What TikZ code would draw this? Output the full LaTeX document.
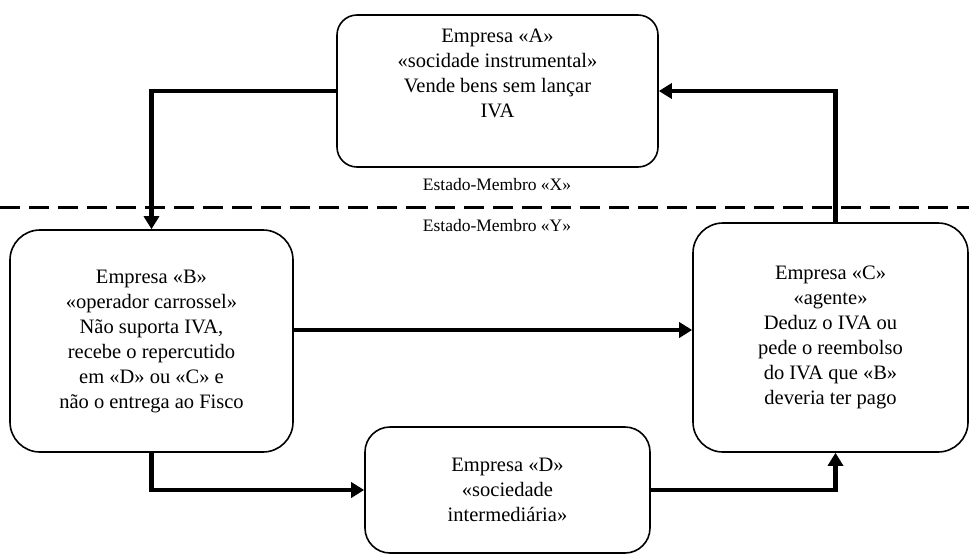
\documentclass[tikz,border=0pt]{standalone}
\usepackage{fontspec}
\setmainfont{Liberation Serif}
\usetikzlibrary{arrows.meta}

\tikzset{every picture/.style={line width=0.75pt}}
\tikzset{
	empresa/.style={draw, line width=1.6pt, align=center, inner sep=0pt, font=\fontsize{20.5}{25}\selectfont},
	fluxo/.style={line width=4.5pt, -{Triangle[length=13pt,width=15pt]}},
	estado/.style={inner sep=0pt, font=\fontsize{17.5}{20}\selectfont}
}

\begin{document}
\begin{tikzpicture}[x=1pt,y=1pt,yscale=-1,xscale=1]

		\useasboundingbox (0,0) rectangle (969,558);

		\node (A) [empresa, rounded corners=20pt, minimum width=321pt, minimum height=152pt] at (497.5,91) {Empresa «A»\\«socidade instrumental»\\Vende bens sem lançar\\IVA\\[10pt]};
		\node (B) [empresa, rounded corners=30pt, minimum width=283pt, minimum height=222pt] at (151.5,341) {Empresa «B»\\«operador carrossel»\\Não suporta IVA,\\recebe o repercutido\\em «D» ou «C» e\\não o entrega ao Fisco};
		\node (C) [empresa, rounded corners=30pt, minimum width=275pt, minimum height=229pt] at (830.5,337.5) {Empresa «C»\\«agente»\\Deduz o IVA ou\\pede o reembolso\\do IVA que «B»\\deveria ter pago};
		\node (D) [empresa, rounded corners=25pt, minimum width=285pt, minimum height=126pt] at (507.5,490) {Empresa «D»\\«sociedade\\intermediária»};

		\node (X) [estado] at (497,185) {Estado-Membro «X»};
		\node (Y) [estado] at (497,226) {Estado-Membro «Y»};
		\coordinate (fronteira-o) at (0,207);
		\coordinate (fronteira-e) at (969,207);
		\draw [line width=3pt, dash pattern=on 20pt off 9pt] (fronteira-o) -- (fronteira-e);

		\draw [fluxo] (A.west) -| (B.north);
		\draw [fluxo] ([yshift=-11pt]B.east) -- ([yshift=-11pt]B.east -| C.west);
		\draw [fluxo] (B.south) |- (D.west);
		\draw [fluxo] (D.east) -| ([xshift=5pt]C.south);
		\draw [fluxo] ([xshift=5pt]C.north) |- (A.east);

\end{tikzpicture}
\end{document}
